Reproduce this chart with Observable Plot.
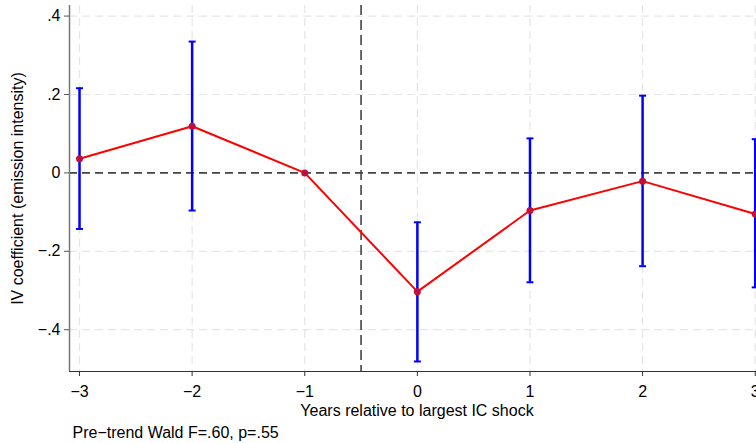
<!DOCTYPE html>
<html>
<head>
<meta charset="utf-8">
<script src="https://cdn.jsdelivr.net/npm/d3@7"></script>
<script src="https://cdn.jsdelivr.net/npm/@observablehq/plot@0.6"></script>
<style>
  html, body { margin: 0; padding: 0; background: #fff; }
  #chart svg { display: block; }
</style>
</head>
<body>
<div id="chart"></div>
<script>
// Data
const years = [-3, -2, -1, 0, 1, 2, 3];
const coef  = [0.036, 0.119, 0.000, -0.303, -0.096, -0.021, -0.105];
const ciLow = [-0.143, -0.096, null, -0.481, -0.279, -0.238, -0.292];
const ciHigh = [0.216, 0.335, null, -0.126, 0.088, 0.197, 0.086];

const xTicks = [-3, -2, -1, 0, 1, 2, 3];
const yTicks = [0.4, 0.2, 0, -0.2, -0.4];
const xDomain = [-3.089, 3.0115];
const yDomain = [-0.5066, 0.427];
const eventLine = [-0.5];
const zeroLine = [0];

const xLabel = "Years relative to largest IC shock";
const yLabel = "IV coefficient (emission intensity)";
const note = "Pre\u2212trend Wald F=.60, p=.55";

const data = years.map((y, i) => ({year: y, coef: coef[i], lo: ciLow[i], hi: ciHigh[i]}));
const ci = data.filter(d => d.lo != null);

const stataFmt = v => {
  if (v === 0) return "0";
  const s = String(Math.abs(+v.toFixed(4))).replace(/^0/, "");
  return (v < 0 ? "\u2212" : "") + s;
};

const capSymbol = {
  draw(ctx, size) {
    const w = Math.sqrt(size / Math.PI);
    ctx.moveTo(-w, 0);
    ctx.lineTo(w, 0);
  }
};

const font = "'Liberation Sans', Arial, Helvetica, sans-serif";
const blue = "#0000ff";

const chart = Plot.plot({
  width: 756,
  height: 443,
  marginLeft: 69,
  marginRight: 0,
  marginTop: 5,
  marginBottom: 72,
  style: {fontFamily: font, fontSize: "16px", background: "#fff", color: "#000"},
  x: {domain: xDomain, ticks: xTicks},
  y: {domain: yDomain, ticks: yTicks},
  marks: [
    // grid
    Plot.gridX(xTicks, {stroke: "#e6e6e6", strokeOpacity: 1, strokeWidth: 1.2, strokeDasharray: "8,5"}),
    Plot.gridY(yTicks, {stroke: "#e6e6e6", strokeOpacity: 1, strokeWidth: 1.2, strokeDasharray: "8,5"}),
    // reference lines
    Plot.ruleY(zeroLine, {stroke: "#444", strokeWidth: 1.6, strokeDasharray: "8,5"}),
    Plot.ruleX(eventLine, {stroke: "#444", strokeWidth: 1.6, strokeDasharray: "10,5"}),
    // axis lines
    Plot.ruleX([xDomain[0]], {stroke: "#777", strokeWidth: 1.5}),
    Plot.ruleY([yDomain[0]], {stroke: "#333", strokeWidth: 1.2}),
    // axes
    Plot.axisY(yTicks, {tickSize: 5, tickPadding: 4, tickFormat: stataFmt, fontSize: 16, label: null, stroke: "#555"}),
    Plot.axisX(xTicks, {tickSize: 5, tickPadding: 9, fontSize: 16, label: null, stroke: "#333"}),
    // confidence intervals
    Plot.ruleX(ci, {x: "year", y1: "lo", y2: "hi", stroke: blue, strokeWidth: 2.5}),
    Plot.dot(ci, {x: "year", y: "lo", symbol: capSymbol, r: 3.5, stroke: blue, strokeWidth: 2, fill: "none"}),
    Plot.dot(ci, {x: "year", y: "hi", symbol: capSymbol, r: 3.5, stroke: blue, strokeWidth: 2, fill: "none"}),
    // estimates
    Plot.line(data, {x: "year", y: "coef", stroke: "#ff0000", strokeWidth: 2}),
    Plot.dot(data, {x: "year", y: "coef", r: 3.5, fill: "#c0103a", stroke: "none"}),
    // titles
    Plot.text([xLabel], {frameAnchor: "bottom", lineAnchor: "middle", textAnchor: "middle", dx: 4, dy: 39, fontSize: 16, fill: "#000"}),
    Plot.text([yLabel], {frameAnchor: "left", lineAnchor: "middle", textAnchor: "middle", dx: -52, rotate: -90, fontSize: 16, fill: "#000"}),
    Plot.text([note], {frameAnchor: "bottom-left", lineAnchor: "middle", textAnchor: "start", dx: 3, dy: 61, fontSize: 16, fill: "#000"})
  ]
});

document.getElementById("chart").appendChild(chart);
</script>
</body>
</html>
